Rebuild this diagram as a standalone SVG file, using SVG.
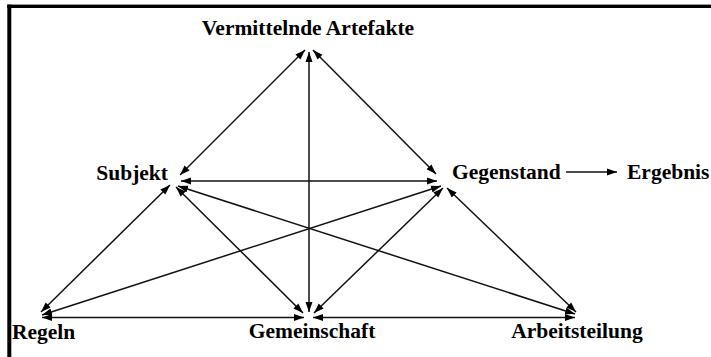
<svg xmlns="http://www.w3.org/2000/svg" width="711" height="357" viewBox="0 0 711 357">
<style>
text{font-family:"Liberation Serif","Times New Roman",serif;font-weight:bold;font-size:21.5px;fill:#000}
.c line{stroke:#111;stroke-width:1.5;marker-start:url(#ah);marker-end:url(#ah)}
.c line.one{marker-start:none}
.frame{fill:#000}
</style>
<defs>
<marker id="ah" markerUnits="userSpaceOnUse" markerWidth="10" markerHeight="8" refX="10" refY="4" orient="auto-start-reverse">
<path d="M0,0.5 L10,4 L0,7.5 z" fill="#000"/>
</marker>
</defs>
<rect width="711" height="357" fill="#fff"/>
<g id="frame">
<rect class="frame" x="7.3" y="4.6" width="704" height="3.4"/>
<rect class="frame" x="7.3" y="4.6" width="4" height="353"/>
</g>
<g class="c" id="connectors">
<line x1="180" y1="175" x2="305" y2="50"/>
<line x1="436" y1="174" x2="313" y2="50"/>
<line x1="309" y1="52" x2="309" y2="312"/>
<line x1="181" y1="181" x2="437" y2="181"/>
<line x1="170" y1="185" x2="41" y2="312"/>
<line x1="176" y1="187" x2="303" y2="313"/>
<line x1="178" y1="186" x2="575" y2="314"/>
<line x1="441" y1="186" x2="42" y2="315"/>
<line x1="443" y1="188" x2="314" y2="313"/>
<line x1="447" y1="188" x2="576" y2="312"/>
<line x1="42" y1="317.5" x2="304" y2="317.5"/>
<line x1="313" y1="317.5" x2="575" y2="317.5"/>
<line class="one" x1="566" y1="172" x2="617" y2="172"/>
</g>
<g id="artefakte"><text x="308" y="35" text-anchor="middle">Vermittelnde Artefakte</text></g>
<g id="subjekt"><text x="168" y="180" text-anchor="end">Subjekt</text></g>
<g id="gegenstand"><text x="452" y="179">Gegenstand</text></g>
<g id="ergebnis"><text x="627" y="179">Ergebnis</text></g>
<g id="regeln"><text x="12" y="339">Regeln</text></g>
<g id="gemeinschaft"><text x="312" y="338" text-anchor="middle">Gemeinschaft</text></g>
<g id="arbeitsteilung"><text x="577" y="338" text-anchor="middle">Arbeitsteilung</text></g>
</svg>
